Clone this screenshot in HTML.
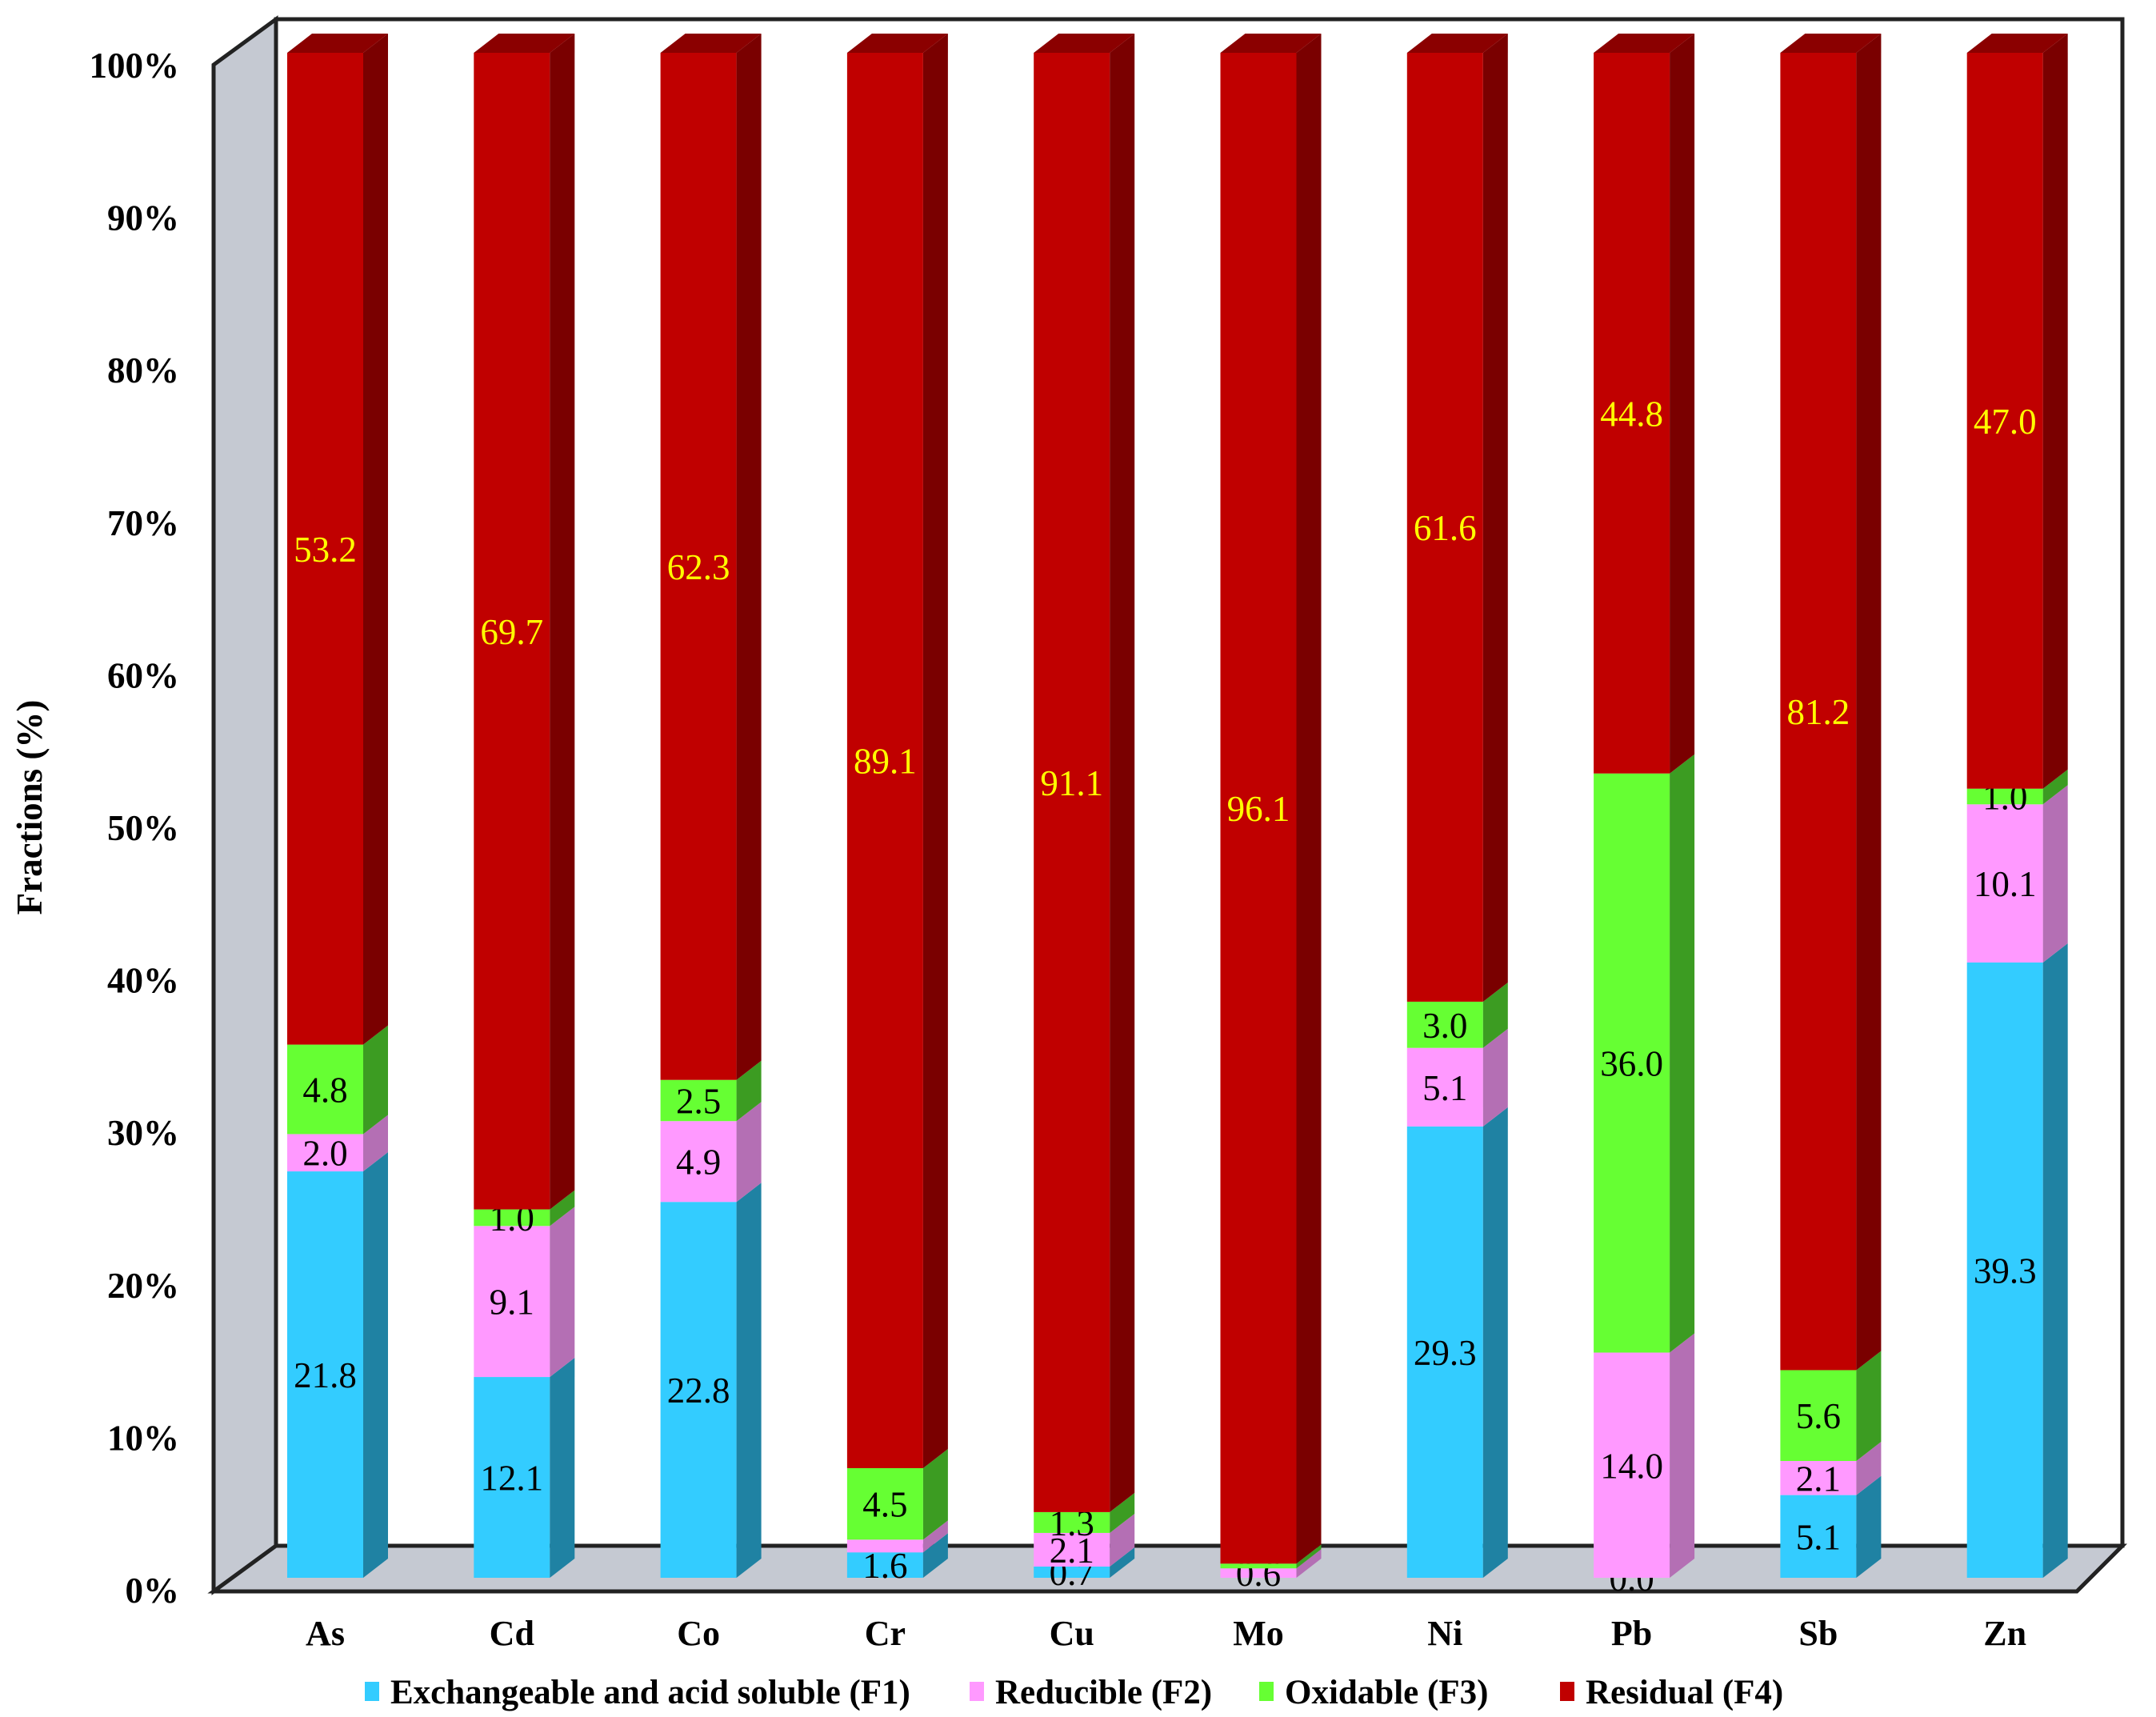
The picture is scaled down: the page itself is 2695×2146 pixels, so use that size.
<!DOCTYPE html>
<html><head><meta charset="utf-8"><style>body{margin:0;background:#fff}svg{display:block}text{font-family:"Liberation Serif",serif}</style></head>
<body>
<svg id="chart" width="2695" height="2146" viewBox="0 0 2695 2146">
<g>
<polygon points="345,24 2653,24 2653,1932 345,1932" fill="#fff" stroke="#222" stroke-width="5"/>
<polygon points="267,81 345,24 345,1932 267,1989" fill="#c5c9d2" stroke="#222" stroke-width="5"/>
<polygon points="267,1989 345,1932 2653,1932 2596,1989" fill="#c5c9d2" stroke="#222" stroke-width="5"/>
</g>
<g id="bars"></g>
<g id="axes"></g>
<text x="0" y="0" transform="translate(52,1009) rotate(-90)" text-anchor="middle" font-size="45" font-weight="bold">Fractions (%)</text>
<g font-size="43" font-weight="bold">
<g><rect x="456" y="2102" width="18" height="24" fill="#33ccff"/><text x="488" y="2129">Exchangeable and acid soluble (F1)</text></g>
<g><rect x="1212" y="2102" width="18" height="24" fill="#ff99ff"/><text x="1244" y="2129">Reducible (F2)</text></g>
<g><rect x="1574" y="2102" width="18" height="24" fill="#66ff33"/><text x="1606" y="2129">Oxidable (F3)</text></g>
<g><rect x="1950" y="2102" width="18" height="24" fill="#c00000"/><text x="1982" y="2129">Residual (F4)</text></g>
</g>
</svg>
<script>
const categories = ["As","Cd","Co","Cr","Cu","Mo","Ni","Pb","Sb","Zn"];
const f1 = [21.8,12.1,22.8,1.6,0.7,0,29.3,0.0,5.1,39.3];
const f2 = [2.0,9.1,4.9,0.8,2.1,0.6,5.1,14.0,2.1,10.1];
const f3 = [4.8,1.0,2.5,4.5,1.3,0.3,3.0,36.0,5.6,1.0];
const f4 = [53.2,69.7,62.3,89.1,91.1,96.1,61.6,44.8,81.2,47.0];
const showLabel1 = [1,1,1,1,1,0,1,1,1,1];
const showLabel2 = [1,1,1,0,1,1,1,1,1,1];
const showLabel3 = [1,1,1,1,1,0,1,1,1,1];
const yTicks = [0,10,20,30,40,50,60,70,80,90,100];

const NS="http://www.w3.org/2000/svg";
const Y0=1972, H=1906, X0=359, STEP=233.3, BW=95, DX=31, DY=-24;
const yScale = p => Y0 - p/100*H;
const xScale = i => X0 + i*STEP;
function mk(tag, attrs, parent){const e=document.createElementNS(NS,tag);for(const k in attrs)e.setAttribute(k,attrs[k]);parent.appendChild(e);return e;}
const bars=document.getElementById('bars');
const axes=document.getElementById('axes');
const series=[f1,f2,f3,f4];
const shows=[showLabel1,showLabel2,showLabel3,null];
const front=["#33ccff","#ff99ff","#66ff33","#c00000"];
const side=["#1f82a3","#b46fb4","#3c9c22","#7a0000"];
const names=["f1","f2","f3","f4"];
categories.forEach((c,i)=>{
  const total=f1[i]+f2[i]+f3[i]+f4[i];
  const x=xScale(i);
  let cum=0;
  const g=mk('g',{},bars);
  
  
  series.forEach((s,k)=>{
    const v=s[i];
    const yb=yScale(cum/total*100), yt=yScale((cum+v)/total*100);
    cum+=v;
    if(v>0){
      const r=mk('rect',{x:x,y:yt,width:BW,height:yb-yt,fill:front[k]},g);
      
      
      const p=mk('polygon',{points:`${x+BW},${yb} ${x+BW+DX},${yb+DY} ${x+BW+DX},${yt+DY} ${x+BW},${yt}`,fill:side[k]},g);
      
      
    }
    if(k===3){
      const t=mk('polygon',{points:`${x},${yt} ${x+DX},${yt+DY} ${x+BW+DX},${yt+DY} ${x+BW},${yt}`,fill:"#8b0000"},g);
      
      
    }
    if(k===3 || shows[k][i]){
      const lb=mk('text',{x:x+BW/2,y:(yb+yt)/2+16,'text-anchor':'middle','font-size':'45',fill:k===3?'#ffff00':'#000'},g);
      lb.textContent=v.toFixed(1);
      
      
    }
  });
  const xl=mk('text',{x:x+BW/2,y:2056,'text-anchor':'middle','font-size':'44','font-weight':'bold'},axes);
  xl.textContent=c;
  
  
});
yTicks.forEach(t=>{
  const yl=mk('text',{x:224,y:yScale(t)+31,'text-anchor':'end','font-size':'45','font-weight':'bold'},axes);
  yl.textContent=t+'%';
  
  
});
</script>
</body></html>
